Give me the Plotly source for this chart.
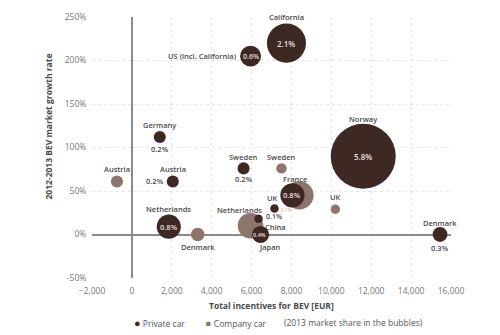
import plotly.graph_objects as go

# ---------------- data ----------------
private_names = ["California", "US (incl. California)", "Germany", "Austria", "Sweden",
                 "Netherlands", "France", "UK", "China", "Japan", "Denmark", "Norway"]
private_x = [7750, 5950, 1400, 2050, 5600, 1850, 8050, 7150, 6350, 6450, 15450, 11600]
private_y = [220, 205, 112, 61, 76, 9, 45, 30, 18, 0, 0, 90]
private_share = [2.1, 0.6, 0.2, 0.2, 0.2, 0.8, 0.8, 0.1, 0.1, 0.4, 0.3, 5.8]
private_share_text = ["2.1%", "0.6%", "0.2%", "0.2%", "0.2%", "0.8%", "0.8%", "0.1%",
                      "0.1%", "0.4%", "0.3%", "5.8%"]

company_names = ["Austria", "Sweden", "Netherlands", "France", "UK", "Denmark"]
company_x = [-750, 7500, 5950, 8400, 10200, 3300]
company_y = [61, 76, 10, 45, 29, 0]
company_share = [0.2, 0.15, 0.9, 1.1, 0.12, 0.25]

x_ticks = [-2000, 0, 2000, 4000, 6000, 8000, 10000, 12000, 14000, 16000]
y_ticks = [-50, 0, 50, 100, 150, 200, 250]
y_tick_text = ["-50%", "0%", "50%", "100%", "150%", "200%", "250%"]

legend_labels = ["Private car", "Company car"]
legend_note = "(2013 market share in the bubbles)"

# ---------------- styles ----------------
C_PRIV = "#3e2824"
C_COMP = "#8d756b"
C_TXT = "#4a4a4a"
C_IN = "#eadfda"
FONT = "Open Sans"
SIZEREF = 2 / 27 ** 2

# name label placement: (xshift, yshift, xanchor)
priv_name_pos = [(0, 26, "center"), (-12, 0, "right"), (0, 12, "center"), (0, 12, "center"),
                 (0, 11, "center"), (0, 18, "center"), (3, 16, "center"), (-2, 10, "center"),
                 (4, -8, "left"), (9, -12, "center"), (0, 12, "center"), (0, 37, "center")]
# share label placement: (xshift, yshift, xanchor, font size, color)
priv_share_pos = [(0, 0, "center", 8, C_IN), (0, 0, "center", 7, C_IN),
                  (0, -12, "center", 7.5, C_TXT), (-7, 0, "right", 7.5, C_TXT),
                  (0, -11, "center", 7.5, C_TXT), (0, 0, "center", 7.5, C_IN),
                  (0, 0, "center", 7.5, C_IN), (5, -2, "left", 4.5, "#c9bcb6"),
                  (5, 2, "left", 7, C_TXT), (-1, 0, "center", 5.5, C_IN),
                  (0, -13, "center", 7.5, C_TXT), (0, 0, "center", 8, C_IN)]
comp_name_pos = [(0, 12, "center"), (0, 11, "center"), (-11, 16, "center"), None,
                 (0, 12, "center"), (0, -12, "center")]
legend_x = [0.112, 0.31, 0.53]

fig = go.Figure()

fig.add_trace(go.Scatter(
    x=company_x, y=company_y, mode="markers", showlegend=False, hoverinfo="skip",
    marker=dict(size=company_share, sizemode="area", sizeref=SIZEREF, color=C_COMP,
                opacity=1, line=dict(width=0))))
fig.add_trace(go.Scatter(
    x=private_x, y=private_y, mode="markers", showlegend=False, hoverinfo="skip",
    marker=dict(size=private_share, sizemode="area", sizeref=SIZEREF, color=C_PRIV,
                opacity=1, line=dict(width=0))))

ann = []
for i, n in enumerate(private_names):
    dx, dy, xa = priv_name_pos[i]
    ann.append(dict(x=private_x[i], y=private_y[i], text=n, showarrow=False,
                    xshift=dx, yshift=dy, xanchor=xa, yanchor="middle",
                    font=dict(family=FONT, size=7.5, color=C_TXT, weight=600)))
    sx, sy, sa, fs, fc = priv_share_pos[i]
    ann.append(dict(x=private_x[i], y=private_y[i], text=private_share_text[i], showarrow=False,
                    xshift=sx, yshift=sy, xanchor=sa, yanchor="middle",
                    font=dict(family=FONT, size=fs, color=fc, weight=600)))
for i, n in enumerate(company_names):
    p = comp_name_pos[i]
    if p is None:
        continue
    dx, dy, xa = p
    ann.append(dict(x=company_x[i], y=company_y[i], text=n, showarrow=False,
                    xshift=dx, yshift=dy, xanchor=xa, yanchor="middle",
                    font=dict(family=FONT, size=7.5, color=C_TXT, weight=600)))

# legend built from annotations
for lbl, col, lx in zip(legend_labels, [C_PRIV, C_COMP], legend_x[:2]):
    ann.append(dict(xref="paper", yref="paper", x=lx, y=-0.17, xanchor="left", yanchor="middle",
                    text=f"<span style='color:{col};font-size:11px'>●</span> {lbl}",
                    showarrow=False, font=dict(family=FONT, size=8.5, color="#555")))
ann.append(dict(xref="paper", yref="paper", x=legend_x[2], y=-0.17, xanchor="left",
                yanchor="middle", text=legend_note, showarrow=False,
                font=dict(family=FONT, size=8.5, color="#555")))

ann.append(dict(xref="paper", yref="paper", x=-0.12, y=0.58, xanchor="center", yanchor="middle",
                text="<b>2012-2013 BEV market growth rate</b>", textangle=-90, showarrow=False,
                font=dict(family=FONT, size=8.5, color=C_TXT)))
ann.append(dict(xref="paper", yref="paper", x=0.5, y=-0.105, xanchor="center", yanchor="middle",
                text="<b>Total incentives for BEV [EUR]</b>", showarrow=False,
                font=dict(family=FONT, size=8.5, color=C_TXT)))

fig.update_layout(
    width=500, height=335,
    margin=dict(l=92, r=49, t=11, b=57),
    paper_bgcolor="white", plot_bgcolor="white",
    font=dict(family=FONT, size=8.5, color="#777"),
    annotations=ann,
    showlegend=False,
    xaxis=dict(range=[-2000, 16000], tickvals=x_ticks, tickformat=",d",
               showgrid=True, gridcolor="#e6e6e6", griddash="dot", gridwidth=1,
               zeroline=True, zerolinecolor="#8a8a8a", zerolinewidth=1.5,
               showline=False, ticks="outside", ticklen=5, tickcolor="rgba(0,0,0,0)",
               fixedrange=True),
    yaxis=dict(range=[-50, 250], tickvals=y_ticks, ticktext=y_tick_text,
               showgrid=True, gridcolor="#e6e6e6", griddash="dot", gridwidth=1,
               zeroline=True, zerolinecolor="#8a8a8a", zerolinewidth=1.5,
               showline=False, ticks="outside", ticklen=3, tickcolor="rgba(0,0,0,0)",
               fixedrange=True),
)

fig.write_html("out.html")
